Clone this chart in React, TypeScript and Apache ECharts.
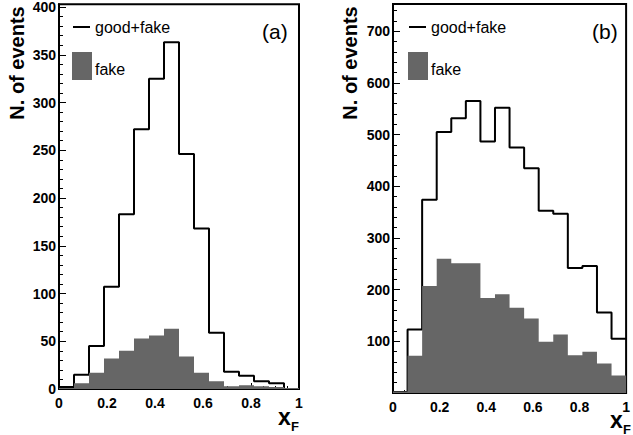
import React, { useEffect, useRef } from "react";
import * as echarts from "echarts";

const binEdges = [0, 0.0625, 0.125, 0.1875, 0.25, 0.3125, 0.375, 0.4375, 0.5, 0.5625, 0.625, 0.6875, 0.75, 0.8125, 0.875, 0.9375, 1];
const goodFakeA = [2, 15, 45, 107, 183, 272, 325, 363, 246, 168, 59, 18, 14, 8, 6, 0];
const fakeA = [1, 6, 17, 32, 40, 53, 56, 63, 34, 17, 8, 3, 4, 3, 2, 1];
const goodFakeB = [2, 123, 374, 505, 532, 565, 487, 552, 475, 435, 353, 347, 242, 246, 156, 105];
const fakeB = [3, 72, 207, 260, 251, 251, 184, 191, 165, 144, 99, 113, 73, 80, 57, 34];
const xTicks = [0, 0.2, 0.4, 0.6, 0.8, 1];

const FONT = "Liberation Sans";

function stepData(vals: number[]) {
  const d: number[][] = vals.map((v, i) => [binEdges[i], v]);
  d.push([binEdges[binEdges.length - 1], vals[vals.length - 1]]);
  return d;
}

function xAxisOf(gridIndex: number) {
  return {
    type: "value",
    gridIndex,
    min: 0,
    max: 1,
    interval: 0.2,
    axisLine: { show: true, lineStyle: { color: "#000", width: 2 } },
    axisTick: { show: true, inside: true, length: 6, lineStyle: { color: "#000", width: 1 } },
    minorTick: { show: true, splitNumber: 4, length: 3, lineStyle: { color: "#000", width: 1 } },
    splitLine: { show: false },
    axisLabel: {
      margin: 7,
      fontFamily: FONT,
      fontWeight: "bold",
      fontSize: 14,
      color: "#000",
      formatter: (v: number) => (xTicks.includes(v) ? String(v) : ""),
    },
  };
}

function yAxisOf(gridIndex: number, max: number, interval: number, showMin: boolean) {
  return {
    type: "value",
    gridIndex,
    min: 0,
    max,
    interval,
    axisLine: { show: true, lineStyle: { color: "#000", width: 2 } },
    axisTick: { show: true, inside: true, length: 7, lineStyle: { color: "#000", width: 1 } },
    minorTick: { show: true, splitNumber: 5, length: 4, lineStyle: { color: "#000", width: 1 } },
    splitLine: { show: false },
    axisLabel: {
      margin: 3,
      showMaxLabel: false,
      showMinLabel: showMin,
      fontFamily: FONT,
      fontWeight: "bold",
      fontSize: 14,
      color: "#000",
    },
  };
}

function legend(x0: number, tag: string, tagX: number) {
  return [
    { type: "line", shape: { x1: x0, y1: 27, x2: x0 + 17, y2: 27 }, style: { stroke: "#000", lineWidth: 2 } },
    { type: "text", x: x0 + 22, y: 27, style: { text: "good+fake", font: `16px '${FONT}'`, fill: "#000", textVerticalAlign: "middle" } },
    { type: "rect", shape: { x: x0 - 1, y: 52, width: 20, height: 28 }, style: { fill: "#666666" } },
    { type: "text", x: x0 + 22, y: 69, style: { text: "fake", font: `16px '${FONT}'`, fill: "#000", textVerticalAlign: "middle" } },
    { type: "text", x: tagX, y: 31, style: { text: tag, font: `21px '${FONT}'`, fill: "#000", textVerticalAlign: "middle" } },
  ];
}

function yTitle(x: number) {
  return {
    type: "text",
    x,
    y: 63,
    rotation: Math.PI / 2,
    style: { text: "N. of events", font: `bold 20px '${FONT}'`, fill: "#000", textAlign: "center", textVerticalAlign: "middle" },
  };
}

function xTitle(x: number, y: number) {
  return [
    { type: "text", x, y, style: { text: "x", font: `bold 23px '${FONT}'`, fill: "#000", textVerticalAlign: "middle" } },
    { type: "text", x: x + 13, y: y + 9, style: { text: "F", font: `bold 13px '${FONT}'`, fill: "#000", textVerticalAlign: "middle" } },
  ];
}

export default function App() {
  const ref = useRef<HTMLDivElement>(null);
  useEffect(() => {
    if (!ref.current) return;
    const chart = echarts.init(ref.current, null, { renderer: "svg" });
    const lineSeries = (idx: number, vals: number[]) => ({
      type: "line",
      xAxisIndex: idx,
      yAxisIndex: idx,
      step: "end",
      data: stepData(vals),
      symbol: "none",
      lineStyle: { color: "#000", width: 2 },
      z: 2,
    });
    const fillSeries = (idx: number, vals: number[]) => ({
      type: "line",
      xAxisIndex: idx,
      yAxisIndex: idx,
      step: "end",
      data: stepData(vals),
      symbol: "none",
      lineStyle: { width: 0, color: "#666666" },
      areaStyle: { color: "#666666", opacity: 1 },
      z: 3,
    });
    chart.setOption({
      animation: false,
      backgroundColor: "#fff",
      grid: [
        { left: 59, top: 4, width: 240, height: 385, show: true, borderColor: "#000", borderWidth: 2, backgroundColor: "transparent" },
        { left: 393, top: 4, width: 239, height: 389, show: true, borderColor: "#000", borderWidth: 2, backgroundColor: "transparent" },
      ],
      xAxis: [xAxisOf(0), xAxisOf(1)],
      yAxis: [yAxisOf(0, 403, 50, true), yAxisOf(1, 753, 100, false)],
      series: [lineSeries(0, goodFakeA), fillSeries(0, fakeA), lineSeries(1, goodFakeB), fillSeries(1, fakeB)],
      graphic: [
        ...legend(73, "(a)", 262),
        ...legend(409, "(b)", 592),
        yTitle(17),
        yTitle(350),
        ...xTitle(278, 417),
        ...xTitle(610, 420),
      ],
    });
    return () => chart.dispose();
  }, []);
  return <div ref={ref} style={{ position: "fixed", left: 0, top: 0, width: 633, height: 435 }} />;
}
